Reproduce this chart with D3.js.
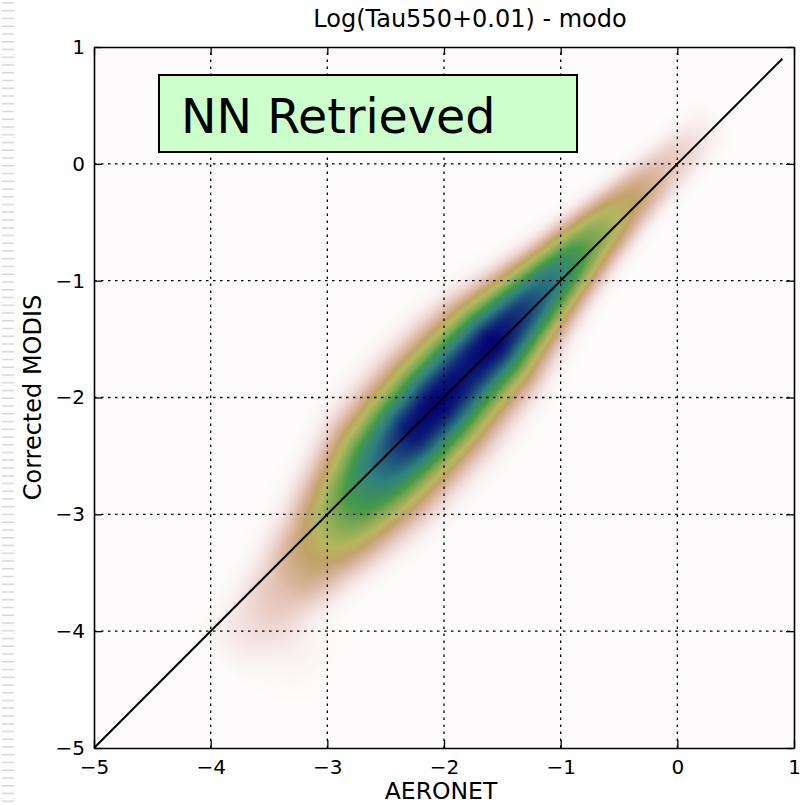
<!DOCTYPE html>
<html>
<head>
<meta charset="utf-8">
<script src="https://cdn.jsdelivr.net/npm/d3@7"></script>
<style>
  body { margin: 0; background: #fff; }
  svg { display: block; }
  text { font-family: "DejaVu Sans", sans-serif; fill: #000; }
</style>
</head>
<body>
<script>
// ---- text ----
const titleText = "Log(Tau550+0.01) - modo";
const xLabelText = "AERONET";
const yLabelText = "Corrected MODIS";
const boxText = "NN Retrieved";

// ---- axes ----
const xDomain = [-5, 1];
const yDomain = [-5, 1];
const xTicks = [-5, -4, -3, -2, -1, 0, 1];
const yTicks = [-5, -4, -3, -2, -1, 0, 1];
const gridTicks = [-4, -3, -2, -1, 0];
const oneToOne = [-5, 0.9];

// ---- joint density of the two retrievals, described along the 1:1 diagonal ----
// s: position along the diagonal, peak: normalised density on the ridge,
// width: spread across the diagonal, shift: ridge offset across the diagonal
const ridgeS     = [-4.1, -3.8, -3.5, -3.2, -2.9, -2.6, -2.3, -2.05, -1.8, -1.55, -1.3, -1.0, -0.7, -0.4, -0.1, 0.2, 0.4];
const ridgePeak  = [0.00, 0.04, 0.10, 0.24, 0.50, 0.75, 0.94, 0.97, 0.94, 0.97, 0.88, 0.72, 0.46, 0.24, 0.10, 0.03, 0.00];
const ridgeWidth = [0.19, 0.20, 0.22, 0.24, 0.27, 0.30, 0.30, 0.30, 0.29, 0.27, 0.23, 0.19, 0.165, 0.145, 0.135, 0.135, 0.135];
const ridgeShift = [-0.22, -0.21, -0.19, -0.15, -0.10, -0.05, -0.02, 0.00, 0.02, 0.03, 0.04, 0.05, 0.06, 0.06, 0.05, 0.04, 0.04];
// faint lobe below the low end of the ridge
const lobeX = [-3.3];
const lobeY = [-4.15];
const lobePeak = [0.015];
const lobeWidth = [0.18];

// ---- gist_earth colour map (reversed when applied) ----
const earthRed   = [[0, 0], [0.2824, 0.1882], [0.4588, 0.2714], [0.5490, 0.4719], [0.6980, 0.7176], [0.7882, 0.7553], [1, 0.9922]];
const earthGreen = [[0, 0], [0.0275, 0], [0.1098, 0.1893], [0.1647, 0.3035], [0.2078, 0.3841], [0.2824, 0.5020], [0.5216, 0.6397], [0.6980, 0.7171], [0.7882, 0.6392], [0.8157, 0.6549], [0.8667, 0.6991], [0.8980, 0.7430], [0.9412, 0.8275], [0.9647, 0.8816], [0.9961, 0.9733], [1, 0.9843]];
const earthBlue  = [[0, 0], [0.0039, 0.1684], [0.0078, 0.2212], [0.0275, 0.4329], [0.0314, 0.4549], [0.2824, 0.5004], [0.4667, 0.2748], [0.5451, 0.3205], [0.7843, 0.3961], [0.8941, 0.6651], [1, 0.9843]];

// ---- layout ----
const W = 806, H = 805;
const plot = { left: 94, right: 794, top: 47, bottom: 748 };

const svg = d3.select("body").append("svg")
  .attr("width", W).attr("height", H);

const x = d3.scaleLinear().domain(xDomain).range([plot.left, plot.right]);
const y = d3.scaleLinear().domain(yDomain).range([plot.bottom, plot.top]);

// light ruled strip at the left page edge
svg.append("g").selectAll("rect")
  .data(d3.range(2.2, H, 7.75))
  .join("rect")
  .attr("x", 2).attr("y", d => d).attr("width", 12).attr("height", 1.6)
  .attr("fill", "#dadada");

// ---- density image ----
const channel = stops => d3.scaleLinear().domain(stops.map(d => d[0])).range(stops.map(d => d[1])).clamp(true);
const cr = channel(earthRed), cg = channel(earthGreen), cb = channel(earthBlue);

const peakAt = d3.scaleLinear().domain(ridgeS).range(ridgePeak).clamp(true);
const widthAt = d3.scaleLinear().domain(ridgeS).range(ridgeWidth).clamp(true);
const shiftAt = d3.scaleLinear().domain(ridgeS).range(ridgeShift).clamp(true);

function density(xv, yv) {
  const s = (xv + yv) / 2;
  const d = (yv - xv) / Math.SQRT2;
  let v = 0;
  if (s > ridgeS[0] && s < ridgeS[ridgeS.length - 1]) {
    const z = Math.abs(d - shiftAt(s)) / widthAt(s);
    v = peakAt(s) * Math.exp(-0.5 * Math.pow(z, 2.5));
  }
  for (let i = 0; i < lobeX.length; i++) {
    const r2 = ((xv - lobeX[i]) ** 2 + (yv - lobeY[i]) ** 2) / (lobeWidth[i] ** 2);
    v += lobePeak[i] * Math.exp(-0.5 * r2);
  }
  return Math.max(0, Math.min(1, v));
}

const pw = plot.right - plot.left, ph = plot.bottom - plot.top;
const canvas = document.createElement("canvas");
canvas.width = pw; canvas.height = ph;
const ctx = canvas.getContext("2d");
const img = ctx.createImageData(pw, ph);
for (let j = 0; j < ph; j++) {
  const yv = y.invert(plot.top + j + 0.5);
  for (let i = 0; i < pw; i++) {
    const xv = x.invert(plot.left + i + 0.5);
    const t = 1 - density(xv, yv);
    const k = (j * pw + i) * 4;
    img.data[k] = Math.round(cr(t) * 255);
    img.data[k + 1] = Math.round(cg(t) * 255);
    img.data[k + 2] = Math.round(cb(t) * 255);
    img.data[k + 3] = 255;
  }
}
ctx.putImageData(img, 0, 0);
svg.append("image")
  .attr("x", plot.left).attr("y", plot.top)
  .attr("width", pw).attr("height", ph)
  .attr("preserveAspectRatio", "none")
  .attr("href", canvas.toDataURL());

// ---- grid ----
const grid = svg.append("g").attr("stroke", "#000").attr("stroke-width", 1.3).attr("stroke-dasharray", "2.5,4.5");
grid.selectAll("line.gx").data(gridTicks).join("line")
  .attr("class", "gx")
  .attr("x1", d => x(d)).attr("x2", d => x(d))
  .attr("y1", plot.bottom).attr("y2", plot.top);
grid.selectAll("line.gy").data(gridTicks).join("line")
  .attr("class", "gy")
  .attr("y1", d => y(d)).attr("y2", d => y(d))
  .attr("x1", plot.left).attr("x2", plot.right);

// ---- 1:1 line ----
svg.append("line")
  .attr("x1", x(oneToOne[0])).attr("y1", y(oneToOne[0]))
  .attr("x2", x(oneToOne[1])).attr("y2", y(oneToOne[1]))
  .attr("stroke", "#000").attr("stroke-width", 2);

// ---- axes (inward ticks on all four sides) ----
const fmt = d3.format("d");
function styleAxis(g) {
  g.select(".domain").attr("stroke", "#000").attr("stroke-width", 1.6);
  g.selectAll(".tick line").attr("stroke", "#000").attr("stroke-width", 1.3);
  g.selectAll(".tick text").attr("font-size", 20).attr("font-family", "DejaVu Sans").attr("fill", "#000");
}
svg.append("g").attr("transform", `translate(0,${plot.bottom})`)
  .call(d3.axisBottom(x).tickValues(xTicks).tickFormat(fmt).tickSizeInner(-8).tickSizeOuter(0).tickPadding(12))
  .call(styleAxis);
svg.append("g").attr("transform", `translate(0,${plot.top})`)
  .call(d3.axisTop(x).tickValues(xTicks).tickFormat("").tickSizeInner(-8).tickSizeOuter(0))
  .call(styleAxis);
svg.append("g").attr("transform", `translate(${plot.left},0)`)
  .call(d3.axisLeft(y).tickValues(yTicks).tickFormat(fmt).tickSizeInner(-8).tickSizeOuter(0).tickPadding(9))
  .call(styleAxis);
svg.append("g").attr("transform", `translate(${plot.right},0)`)
  .call(d3.axisRight(y).tickValues(yTicks).tickFormat("").tickSizeInner(-8).tickSizeOuter(0))
  .call(styleAxis);

// ---- titles ----
svg.append("text")
  .attr("x", 470).attr("y", 27)
  .attr("text-anchor", "middle").attr("font-size", 24)
  .text(titleText);
svg.append("text")
  .attr("x", 441).attr("y", 799)
  .attr("text-anchor", "middle").attr("font-size", 23.5)
  .text(xLabelText);
svg.append("text")
  .attr("transform", `translate(41,${(plot.top + plot.bottom) / 2}) rotate(-90)`)
  .attr("text-anchor", "middle").attr("font-size", 24)
  .text(yLabelText);

// ---- annotation box ----
svg.append("rect")
  .attr("x", 159).attr("y", 75).attr("width", 418).attr("height", 77)
  .attr("fill", "#ccffcc").attr("stroke", "#000").attr("stroke-width", 2);
svg.append("text")
  .attr("x", 181).attr("y", 133)
  .attr("font-size", 47.5)
  .text(boxText);
</script>
</body>
</html>
